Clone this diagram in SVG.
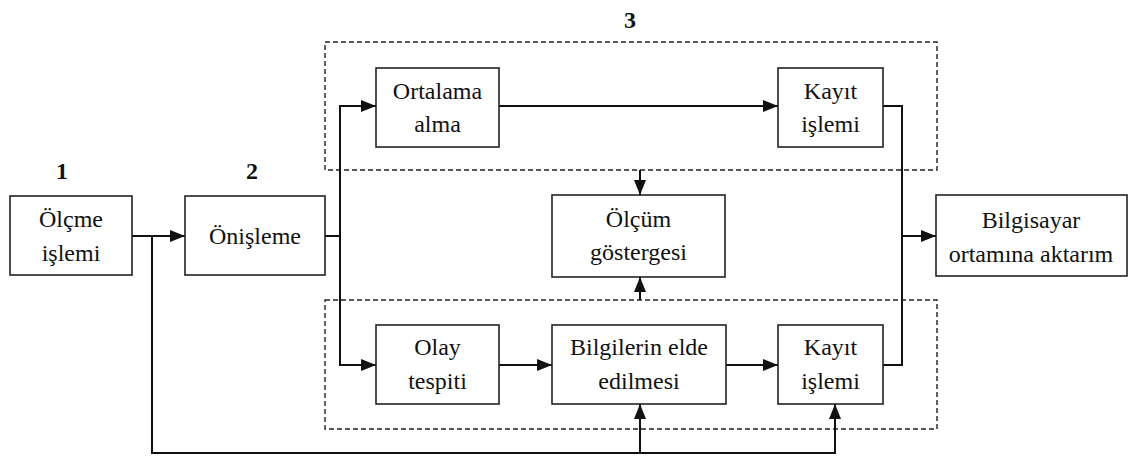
<svg xmlns="http://www.w3.org/2000/svg" width="1128" height="456" viewBox="0 0 1128 456">
<defs>
<marker id="arr" viewBox="0 0 15 12" refX="15" refY="6" markerWidth="15" markerHeight="12" markerUnits="userSpaceOnUse" orient="auto">
<path d="M0,0 L15,6 L0,12 z" fill="#111"/>
</marker>
</defs>
<style>
.box{fill:#fff;stroke:#222;stroke-width:1.6}
.dash{fill:none;stroke:#222;stroke-width:1.4;stroke-dasharray:5,3}
.t{font-size:24px;fill:#111;text-anchor:middle}
.n{font-size:24px;font-weight:bold;fill:#111;text-anchor:middle}
.c{fill:none;stroke:#111;stroke-width:2}
</style>
<rect width="1128" height="456" fill="#fff"/>
<g id="groups">
<rect class="dash" x="325" y="42" width="612" height="128"/>
<rect class="dash" x="325" y="300" width="612" height="129"/>
</g>
<g id="labels" font-family="Liberation Serif, Times New Roman, DejaVu Serif, serif">
<text class="n" x="62" y="179">1</text>
<text class="n" x="252" y="179">2</text>
<text class="n" x="630" y="28">3</text>
</g>
<g id="connectors">
<path class="c" d="M132,236 H185" marker-end="url(#arr)"/>
<path class="c" d="M152,236 V453 H835 V404" marker-end="url(#arr)"/>
<path class="c" d="M640,453 V404" marker-end="url(#arr)"/>
<path class="c" d="M325,236 H340"/>
<path class="c" d="M340,365 V106 H376" marker-end="url(#arr)"/>
<path class="c" d="M340,300 V365 H376" marker-end="url(#arr)"/>
<path class="c" d="M499,106 H778" marker-end="url(#arr)"/>
<path class="c" d="M499,365 H552" marker-end="url(#arr)"/>
<path class="c" d="M726,365 H778" marker-end="url(#arr)"/>
<path class="c" d="M883,106 H902 V365 H883"/>
<path class="c" d="M902,236 H936" marker-end="url(#arr)"/>
<path class="c" d="M640,170 V195" marker-end="url(#arr)"/>
<path class="c" d="M640,300 V277" marker-end="url(#arr)"/>
</g>
<g id="nodes" font-family="Liberation Serif, Times New Roman, DejaVu Serif, serif">
<g id="olcme">
<rect class="box" x="10" y="196" width="122" height="79"/>
<text class="t" x="71" y="227">Ölçme</text>
<text class="t" x="71" y="261">işlemi</text>
</g>
<g id="onisleme">
<rect class="box" x="185" y="196" width="140" height="79"/>
<text class="t" x="255" y="244">Önişleme</text>
</g>
<g id="ortalama">
<rect class="box" x="376" y="68" width="123" height="79"/>
<text class="t" x="437.5" y="99">Ortalama</text>
<text class="t" x="437.5" y="132">alma</text>
</g>
<g id="kayit1">
<rect class="box" x="778" y="68" width="105" height="79"/>
<text class="t" x="830.5" y="99">Kayıt</text>
<text class="t" x="830.5" y="132">işlemi</text>
</g>
<g id="gosterge">
<rect class="box" x="552" y="195" width="173" height="82"/>
<text class="t" x="638.5" y="227">Ölçüm</text>
<text class="t" x="638.5" y="260">göstergesi</text>
</g>
<g id="bilgisayar">
<rect class="box" x="936" y="195" width="191" height="81"/>
<text class="t" x="1031" y="228">Bilgisayar</text>
<text class="t" x="1031" y="262">ortamına aktarım</text>
</g>
<g id="olay">
<rect class="box" x="376" y="325" width="123" height="79"/>
<text class="t" x="437.5" y="355">Olay</text>
<text class="t" x="437.5" y="389">tespiti</text>
</g>
<g id="bilgiler">
<rect class="box" x="552" y="325" width="174" height="79"/>
<text class="t" x="639" y="355">Bilgilerin elde</text>
<text class="t" x="639" y="389">edilmesi</text>
</g>
<g id="kayit2">
<rect class="box" x="778" y="325" width="105" height="79"/>
<text class="t" x="830.5" y="355">Kayıt</text>
<text class="t" x="830.5" y="389">işlemi</text>
</g>
</g>
</svg>
